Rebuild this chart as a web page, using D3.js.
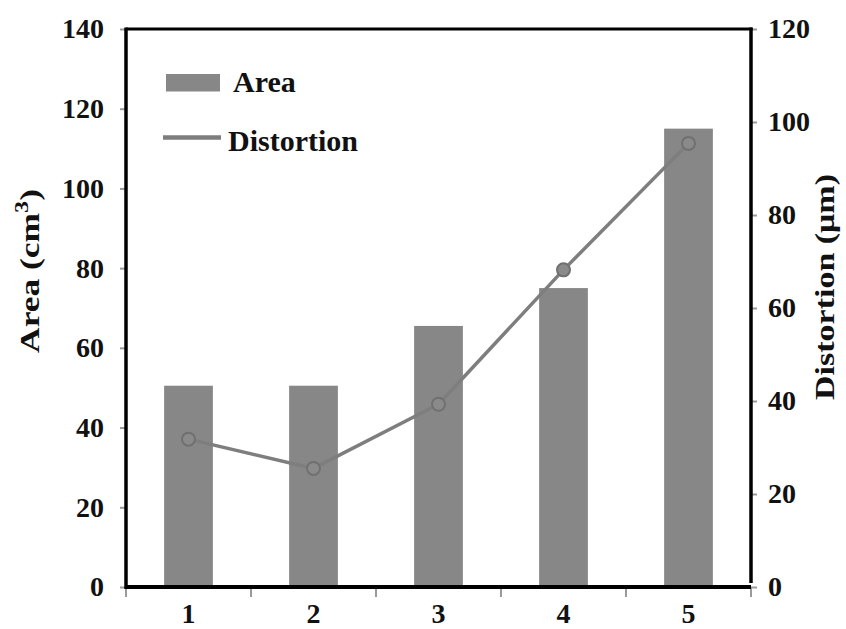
<!DOCTYPE html>
<html>
<head>
<meta charset="utf-8">
<script src="https://cdn.jsdelivr.net/npm/d3@7/dist/d3.min.js"></script>
<style>
  html, body { margin: 0; padding: 0; background: #fff; }
  svg { display: block; }
  text { font-family: "Liberation Serif", "Times New Roman", serif; font-weight: bold; fill: #111; }
</style>
</head>
<body>
<svg id="chart" width="846" height="629"></svg>
<script>
// Sample categories and the two measured series
const categories = ["1", "2", "3", "4", "5"];
const areaValues = [50.5, 50.5, 65.5, 75, 115];          // cm³, left axis
const distortionValues = [31.8, 25.5, 39.3, 68.2, 95.4]; // μm, right axis

const areaTicks = [0, 20, 40, 60, 80, 100, 120, 140];
const distortionTicks = [0, 20, 40, 60, 80, 100, 120];

const plot = { left: 126, right: 751, top: 29, bottom: 587 };

const svg = d3.select("#chart");

const x = d3.scaleBand().domain(categories).range([plot.left, plot.right]).padding(0);
const yArea = d3.scaleLinear().domain([0, 140]).range([plot.bottom, plot.top]);
const yDist = d3.scaleLinear().domain([0, 120]).range([plot.bottom, plot.top]);

const barColor = "#878787";
const lineColor = "#7e7e7e";
const barW = x.bandwidth() * 0.39;

// Bars (Area)
svg.append("g").selectAll("rect")
  .data(categories)
  .join("rect")
  .attr("x", (d) => x(d) + (x.bandwidth() - barW) / 2)
  .attr("y", (d, i) => yArea(areaValues[i]))
  .attr("width", barW)
  .attr("height", (d, i) => yArea(0) - yArea(areaValues[i]))
  .attr("fill", barColor);

// Line (Distortion)
const pts = categories.map((c, i) => [x(c) + x.bandwidth() / 2, yDist(distortionValues[i])]);
svg.append("path")
  .attr("d", d3.line()(pts))
  .attr("fill", "none")
  .attr("stroke", lineColor)
  .attr("stroke-width", 3.5)
  .attr("stroke-linejoin", "round");

svg.append("g").selectAll("circle")
  .data(pts)
  .join("circle")
  .attr("cx", (d) => d[0])
  .attr("cy", (d) => d[1])
  .attr("r", 6.5)
  .attr("fill", "#8a8a8a")
  .attr("stroke", "#707070")
  .attr("stroke-width", 2);

// Axes
const tickColor = "#9a9a9a";

const leftAxis = svg.append("g")
  .attr("transform", `translate(${plot.left},0)`)
  .call(d3.axisLeft(yArea).tickValues(areaTicks).tickSize(6).tickPadding(16).tickFormat(d3.format("d")));

const rightAxis = svg.append("g")
  .attr("transform", `translate(${plot.right},0)`)
  .call(d3.axisRight(yDist).tickValues(distortionTicks).tickSize(6).tickPadding(11).tickFormat(d3.format("d")));

const bottomAxis = svg.append("g")
  .attr("transform", `translate(0,${plot.bottom})`)
  .call(d3.axisBottom(x).tickSize(0).tickPadding(26));

[leftAxis, rightAxis, bottomAxis].forEach((g) => {
  g.select(".domain").remove();
  g.selectAll(".tick line").attr("stroke", tickColor).attr("stroke-width", 2);
  g.selectAll(".tick text")
    .attr("font-size", 28)
    .attr("font-family", "'Liberation Serif', 'Times New Roman', serif")
    .attr("font-weight", "bold")
    .attr("fill", "#111");
});
bottomAxis.selectAll(".tick text").attr("dy", null).attr("y", 36);

// Band boundary ticks under the x axis
const bounds = categories.map((c) => x(c)).concat([plot.right]);
svg.append("g").selectAll("line")
  .data(bounds)
  .join("line")
  .attr("x1", (d) => d).attr("x2", (d) => d)
  .attr("y1", plot.bottom).attr("y2", plot.bottom + 10)
  .attr("stroke", tickColor)
  .attr("stroke-width", 2);

// Frame: left, bottom, right axes and top border
const frame = svg.append("g").attr("stroke", "#000").attr("fill", "none");
frame.append("line").attr("x1", plot.left).attr("x2", plot.left)
  .attr("y1", plot.top - 1.5).attr("y2", plot.bottom + 2).attr("stroke-width", 3.5);
frame.append("line").attr("x1", plot.left).attr("x2", plot.right)
  .attr("y1", plot.bottom).attr("y2", plot.bottom).attr("stroke-width", 4);
frame.append("line").attr("x1", plot.right).attr("x2", plot.right)
  .attr("y1", plot.top - 1.5).attr("y2", plot.bottom - 4).attr("stroke-width", 3.5);
frame.append("line").attr("x1", plot.left).attr("x2", plot.right + 1.5)
  .attr("y1", plot.top).attr("y2", plot.top).attr("stroke-width", 3);

// Axis titles, stretched along their length to the axis span
function axisTitle(cx, cy, span, build) {
  const g = svg.append("g");
  const t = g.append("text").attr("font-size", 28).attr("text-anchor", "middle");
  build(t);
  const len = t.node().getComputedTextLength();
  g.attr("transform", `translate(${cx},${cy}) rotate(-90) scale(${span / len},1)`);
  return g;
}

axisTitle(39, 271, 164, (t) => {
  t.append("tspan").text("Area (cm");
  t.append("tspan").text("3").attr("font-size", 19).attr("dy", -11);
  t.append("tspan").text(")").attr("dy", 11);
});

axisTitle(834, 287, 226, (t) => {
  t.text("Distortion (μm)");
});

// Legend
const legend = svg.append("g");
legend.append("rect")
  .attr("x", 166).attr("y", 74).attr("width", 54).attr("height", 17.5)
  .attr("fill", barColor);
legend.append("text")
  .attr("x", 233).attr("y", 92).attr("font-size", 30).text("Area");
legend.append("line")
  .attr("x1", 163).attr("x2", 221).attr("y1", 137.5).attr("y2", 137.5)
  .attr("stroke", lineColor).attr("stroke-width", 4.5);
legend.append("text")
  .attr("x", 228).attr("y", 151).attr("font-size", 30).text("Distortion");
</script>
</body>
</html>
